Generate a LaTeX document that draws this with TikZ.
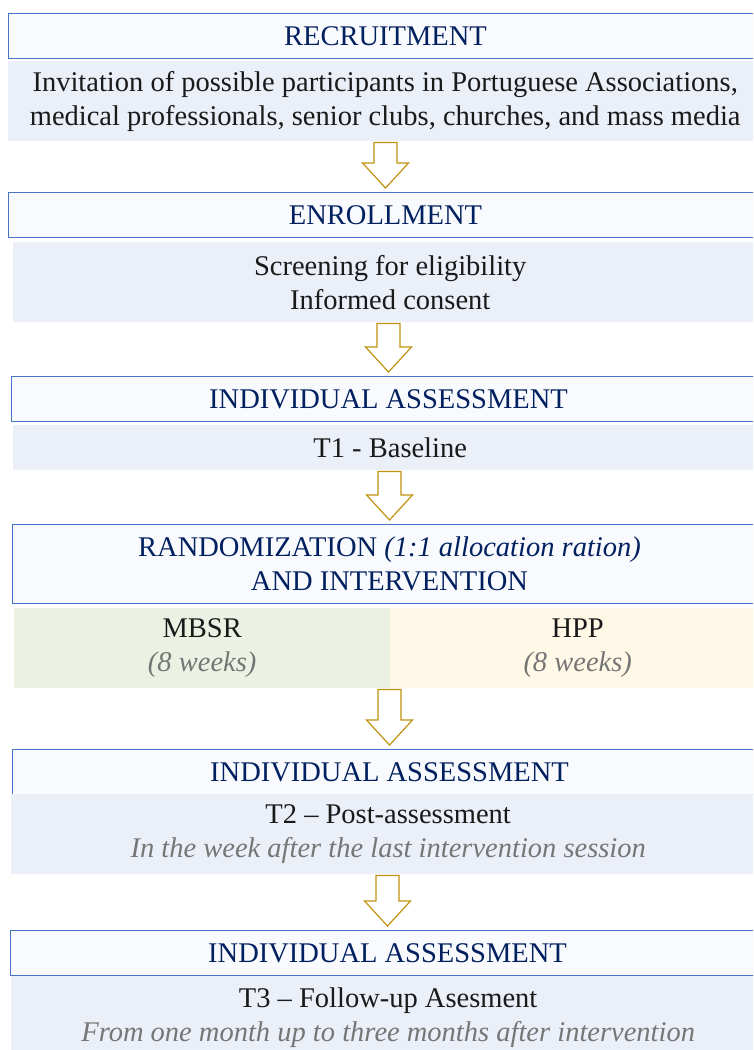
\documentclass[tikz,border=0pt]{standalone}
\usepackage{fontspec}
\setmainfont{Liberation Serif}
\usetikzlibrary{calc}
\definecolor{boxline}{RGB}{72,116,196}
\definecolor{headfill}{RGB}{249,250,253}
\definecolor{bodyfill}{RGB}{235,239,248}
\definecolor{mbsrfill}{RGB}{235,241,227}
\definecolor{hppfill}{RGB}{255,248,230}
\definecolor{headtext}{RGB}{0,32,96}
\definecolor{bodytext}{RGB}{26,26,26}
\definecolor{notetext}{RGB}{118,118,118}
\definecolor{arrowline}{RGB}{193,146,16}

\tikzset{
  header/.style={draw=boxline, line width=1pt, fill=headfill, text=headtext,
    anchor=north west, inner sep=0pt, align=center, minimum width=754},
  body/.style={fill=bodyfill, text=bodytext, anchor=north west, inner sep=0pt,
    align=center, minimum width=754},
  blockarrow/.style={draw=arrowline, fill=white, line width=1.2pt, line join=miter}
}
\newcommand\note[1]{{\color{notetext}\itshape #1}}
% hollow down arrow between two stages
\newcommand\flowarrow[2]{%
  \draw[blockarrow] let \p1=(#1.south), \p2=(#2.north) in
    (\x2-11.5pt,\y1-1pt) -- (\x2+11.5pt,\y1-1pt) -- (\x2+11.5pt,\y2+29pt)
    -- (\x2+23pt,\y2+29pt) -- (\x2,\y2+4pt) -- (\x2-23pt,\y2+29pt)
    -- (\x2-11.5pt,\y2+29pt) -- cycle;}

\begin{document}
\begin{tikzpicture}[x=1pt,y=-1pt,font=\fontsize{28.5}{34}\selectfont]
  \clip (0,0) rectangle (753,1050);
  \fill[white] (0,0) rectangle (753,1050);

  \node[header, minimum height=45] (recruit) at (8,13) {RECRUITMENT};
  \node[body, minimum height=80] (invite) at (8,61)
    {Invitation of possible participants in Portuguese Associations,\\
     medical professionals, senior clubs, churches, and mass media};

  \node[header, minimum height=45] (enroll) at (8,192) {ENROLLMENT};
  \node[body, minimum height=80] (screen) at (13,242)
    {Screening for eligibility\\Informed consent};

  \node[header, minimum height=45] (assessA) at (11,376) {INDIVIDUAL ASSESSMENT};
  \node[body, minimum height=45] (baseline) at (13,425) {T1 - Baseline};

  \node[header, minimum height=79] (random) at (12,524)
    {RANDOMIZATION \textit{(1:1 allocation ration)}\\AND INTERVENTION};
  \node[body, fill=mbsrfill, minimum width=376, minimum height=80] (mbsr) at (14,608)
    {MBSR\\\note{(8 weeks)}};
  \node[body, fill=hppfill, minimum width=375, minimum height=80] (hpp) at (390,608)
    {HPP\\\note{(8 weeks)}};

  \node[header, minimum height=45] (assessB) at (12,749) {INDIVIDUAL ASSESSMENT};
  \node[body, minimum height=80] (post) at (11,794)
    {T2 -- Post-assessment\\\note{In the week after the last intervention session}};

  \node[header, minimum height=45] (assessC) at (10,930) {INDIVIDUAL ASSESSMENT};
  \node[body, minimum height=83] (follow) at (11,976)
    {T3 -- Follow-up Asesment\\\note{From one month up to three months after intervention}};

  \flowarrow{invite}{enroll}
  \flowarrow{screen}{assessA}
  \flowarrow{baseline}{random}
  \flowarrow{mbsr}{assessB}
  \flowarrow{post}{assessC}
\end{tikzpicture}
\end{document}
